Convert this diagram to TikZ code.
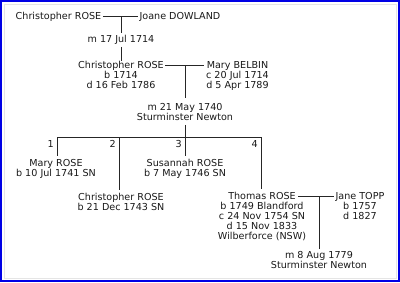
\documentclass[tikz,border=0pt]{standalone}
\usepackage{fontspec}
\setmainfont{DejaVu Sans}
\newcommand\tp{\rule{0pt}{7.5pt}}
\newcommand\bt{\rule[-2.5pt]{0pt}{2.5pt}}
\begin{document}
\begin{tikzpicture}[x=1pt,y=-1pt,
  every node/.style={font=\fontsize{9.6}{10}\selectfont, text=black!90},
  person/.style={anchor=north, align=center, inner xsep=1.5pt, inner ysep=0pt},
  marriage/.style={anchor=north, align=center, inner xsep=1pt, inner ysep=2pt},
  num/.style={anchor=north east, inner sep=0pt},
  link/.style={draw=black!85, line width=1pt},
  drop/.style={link, shorten >=3pt}]
\useasboundingbox (0,0) rectangle (400,282);
\fill[white] (0,0) rectangle (400,282);
\draw[black!10, line width=0.8pt] (4,4) rectangle (396,278);
\draw[blue!90!black, line width=2pt] (1,1) rectangle (399,281);

% generation 1
\node[person] (cr1) at (58.5,12) {\tp Christopher ROSE};
\node[person] (jd) at (180,12) {\tp Joane DOWLAND};
\node[marriage] (m1) at (121,32.5) {\tp m 17 Jul 1714\bt};

% generation 2
\node[person] (cr2) at (121,61) {\tp Christopher ROSE\\b 1714\\d 16 Feb 1786};
\node[person] (mb) at (237.5,61) {\tp Mary BELBIN\\c 20 Jul 1714\\d 5 Apr 1789};
\node[marriage] (m2) at (185,100.5) {\tp m 21 May 1740\\Sturminster Newton\bt};

% children
\coordinate (d1) at (57,137);
\coordinate (d2) at (119,137);
\coordinate (d3) at (185,137);
\coordinate (d4) at (261,137);
\node[num] (n1) at (54,140) {\tp 1};
\node[num] (n2) at (116,140) {\tp 2};
\node[num] (n3) at (182,140) {\tp 3};
\node[num] (n4) at (258,140) {\tp 4};
\node[person] (k1) at (56,159) {\tp Mary ROSE\\b 10 Jul 1741 SN};
\node[person] (k2) at (121,192.5) {\tp Christopher ROSE\\b 21 Dec 1743 SN};
\node[person] (k3) at (185,159) {\tp Susannah ROSE\\b 7 May 1746 SN};
\node[person] (k4) at (262,192) {\tp Thomas ROSE\\b 1749 Blandford\\c 24 Nov 1754 SN\\d 15 Nov 1833\\Wilberforce (NSW)};
\node[person] (jt) at (360,192) {\tp Jane TOPP\\b 1757\\d 1827};
\node[marriage] (m3) at (319,249) {\tp m 8 Aug 1779\\Sturminster Newton};

% connectors
\coordinate (c1) at ([yshift=-4pt]cr1.north east);
\draw[link] (c1) -- ([yshift=-4pt]jd.north west);
\draw[link] (m1.north) -- (m1.north |- c1);
\draw[link] (m1.south) -- (cr2.north);

\coordinate (c2) at ([yshift=-4pt]cr2.north east);
\draw[link] (c2) -- ([yshift=-4pt]mb.north west);
\draw[link, shorten <=3pt] (m2.north) -- (m2.north |- c2);
\draw[link] (m2.south) -- (d3);

\draw[link] (d1) -- (d4);
\draw[drop] (d1) -- (d1 |- k1.north);
\draw[drop] (d2) -- (d2 |- k2.north);
\draw[drop] (d3) -- (d3 |- k3.north);
\draw[drop] (d4) -- (d4 |- k4.north);

\coordinate (c4) at ([xshift=36pt,yshift=-4pt]k4.north);
\draw[link] (c4) -- ([yshift=-4pt]jt.north west);
\draw[link] (m3.north) -- (m3.north |- c4);
\end{tikzpicture}
\end{document}
